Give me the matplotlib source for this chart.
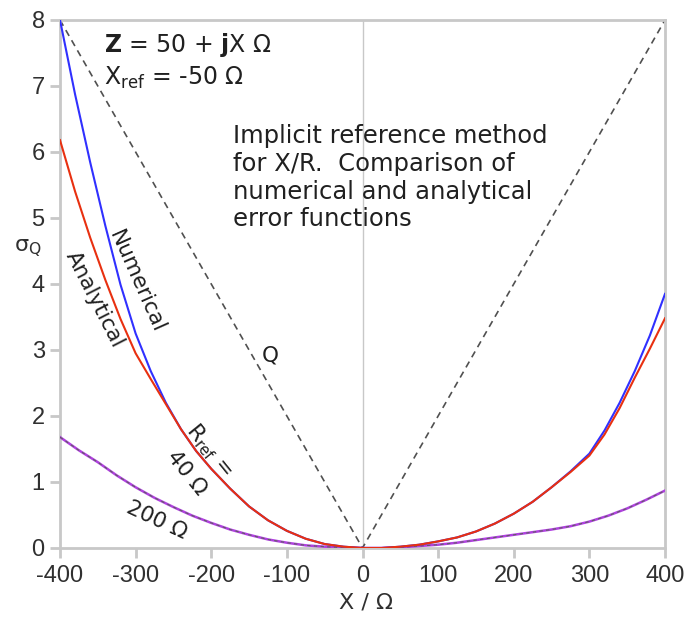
import matplotlib
matplotlib.use("Agg")
import matplotlib.pyplot as plt
import numpy as np

plt.rcParams['font.family'] = ['Liberation Sans', 'DejaVu Sans']
plt.rcParams['mathtext.fontset'] = 'custom'
plt.rcParams['mathtext.rm'] = 'DejaVu Sans'
plt.rcParams['mathtext.it'] = 'DejaVu Sans'
plt.rcParams['mathtext.bf'] = 'DejaVu Sans:bold'

# X values (ohm) for the R_ref = 40 ohm curves
x_40 = [-400, -380, -360, -340, -320, -300, -280, -260, -240, -220, -200, -175, -150,
        -125, -100, -75, -50, -25, 0, 25, 50, 75, 100, 125, 150, 175, 200, 225, 250,
        275, 300, 320, 340, 360, 380, 400]
numerical_40 = [8.0, 6.87, 5.84, 4.88, 3.99, 3.25, 2.68, 2.2, 1.8, 1.47, 1.2, 0.9, 0.63,
                0.42, 0.26, 0.14, 0.06, 0.02, 0.0, 0.0, 0.02, 0.05, 0.1, 0.16, 0.25,
                0.37, 0.52, 0.7, 0.92, 1.16, 1.43, 1.78, 2.2, 2.68, 3.22, 3.85]
analytical_40 = [6.18, 5.4, 4.7, 4.06, 3.47, 2.95, 2.56, 2.18, 1.8, 1.47, 1.2, 0.9, 0.63,
                 0.42, 0.26, 0.14, 0.06, 0.02, 0.0, 0.0, 0.02, 0.05, 0.1, 0.16, 0.25,
                 0.37, 0.52, 0.7, 0.92, 1.15, 1.4, 1.72, 2.12, 2.58, 3.02, 3.48]
# R_ref = 200 ohm (numerical and analytical overlap)
x_200 = [-400, -375, -350, -325, -300, -275, -250, -225, -200, -175, -150, -125, -100,
         -75, -50, -25, 0, 25, 50, 75, 100, 125, 150, 175, 200, 225, 250, 275, 300,
         325, 350, 375, 400]
curve_200 = [1.68, 1.48, 1.3, 1.1, 0.92, 0.76, 0.62, 0.49, 0.38, 0.28, 0.2, 0.13, 0.08,
             0.04, 0.02, 0.005, 0.0, 0.0, 0.01, 0.03, 0.05, 0.08, 0.12, 0.16, 0.2, 0.24,
             0.28, 0.33, 0.4, 0.49, 0.6, 0.73, 0.87]
# Q = |X| / 50
x_q = [-400, 0, 400]
q_vals = [8, 0, 8]

xticks = [-400, -300, -200, -100, 0, 100, 200, 300, 400]
yticks = [0, 1, 2, 3, 4, 5, 6, 7, 8]

fig = plt.figure(figsize=(6.92, 6.18), dpi=100)
ax = fig.add_axes([60/692, 70/618, 605/692, 528/618])

grey = '#c8c8c8'
txt = '#202020'
ax.axvline(0, color=grey, lw=1, zorder=1)
ax.plot(x_q, q_vals, color='#505050', lw=1.2, ls=(0, (4, 3)), zorder=2)
ax.plot(x_200, curve_200, color='#b040e0', lw=1.8, zorder=3)
ax.plot(x_200, curve_200, color='#606060', lw=0.8, ls=(0, (3, 3)), zorder=4)
ax.plot(x_40, numerical_40, color='#3030ff', lw=1.5, zorder=5)
ax.plot(x_40, analytical_40, color='#e83010', lw=1.5, zorder=6)

ax.set_xlim(-400, 400)
ax.set_ylim(0, 8)
ax.set_xticks(xticks)
ax.set_yticks(yticks)
ax.set_xticklabels([str(v) for v in xticks])
ax.set_yticklabels([str(v) for v in yticks])
for s in ax.spines.values():
    s.set_color(grey)
    s.set_linewidth(2)
ax.tick_params(axis='both', colors=grey, length=7, width=2, labelcolor='#303030',
               labelsize=17)
ax.tick_params(axis='x', pad=5)
ax.tick_params(axis='y', pad=4)

dv = ['DejaVu Sans']
ax.text(0.505, -0.104, 'X / Ω', transform=ax.transAxes, fontsize=16, color='#303030',
        ha='center', va='center', family=dv)
ax.text(-0.053, 0.568, r'σ$_\mathrm{Q}$', transform=ax.transAxes, fontsize=16,
        color='#303030', ha='center', va='center', family=dv)

ax.text(-342, 7.62, r'$\mathbf{Z}$ = 50 + $\mathbf{j}$X Ω', fontsize=17, va='center',
        color=txt, family=dv)
ax.text(-342, 7.12, r'X$_\mathrm{ref}$ = -50 Ω', fontsize=17, va='center', color=txt,
        family=dv)

ax.text(-171, 6.42, 'Implicit reference method\nfor X/R.  Comparison of\nnumerical and analytical\nerror functions',
        fontsize=17.5, va='top', linespacing=1.19, family=dv, color=txt)
ax.text(-298, 4.03, 'Numerical', fontsize=15.5, rotation=-66, ha='center', va='center',
        family=dv, color=txt)
ax.text(-354, 3.76, 'Analytical', fontsize=15.5, rotation=-63, ha='center', va='center',
        family=dv, color=txt)
ax.text(-203, 1.48, r'R$_\mathrm{ref}$ =', fontsize=15.5, rotation=-51, ha='center',
        va='center', family=dv, color=txt)
ax.text(-233, 1.14, '40 Ω', fontsize=15.5, rotation=-51, ha='center', va='center',
        family=dv, color=txt)
ax.text(-272, 0.42, '200 Ω', fontsize=15.5, rotation=-25, ha='center', va='center',
        family=dv, color=txt)
ax.text(-122, 2.92, 'Q', fontsize=15.5, ha='center', va='center', family=dv, color=txt)

fig.savefig('out.png', dpi=100)
